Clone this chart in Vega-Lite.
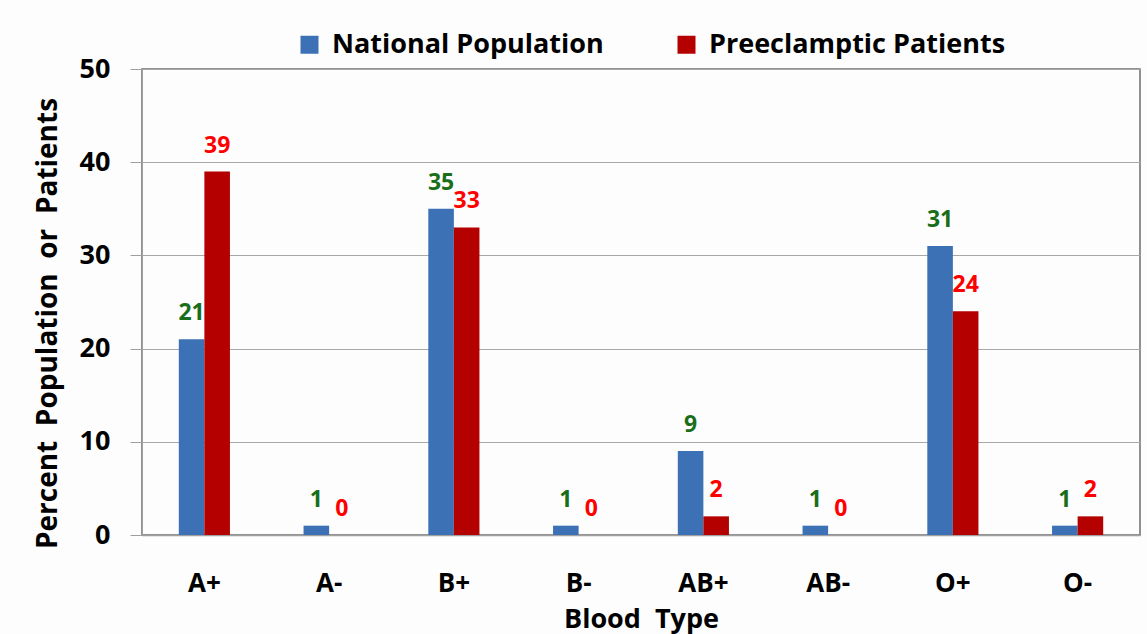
{
  "$schema": "https://vega.github.io/schema/vega-lite/v6.json",
  "autosize": "none",
  "width": 998,
  "height": 466,
  "padding": {"left": 142, "top": 69, "right": 7, "bottom": 99},
  "background": "#fdfdfd",
  "config": {
    "font": "Open Sans",
    "view": {"stroke": "#6e6e6e", "strokeWidth": 1.5}
  },
  "data": {
    "values": [
      {"type": "A+", "series": "National Population", "value": 21},
      {"type": "A+", "series": "Preeclamptic Patients", "value": 39},
      {"type": "A-", "series": "National Population", "value": 1},
      {"type": "A-", "series": "Preeclamptic Patients", "value": 0},
      {"type": "B+", "series": "National Population", "value": 35},
      {"type": "B+", "series": "Preeclamptic Patients", "value": 33},
      {"type": "B-", "series": "National Population", "value": 1},
      {"type": "B-", "series": "Preeclamptic Patients", "value": 0},
      {"type": "AB+", "series": "National Population", "value": 9},
      {"type": "AB+", "series": "Preeclamptic Patients", "value": 2},
      {"type": "AB-", "series": "National Population", "value": 1},
      {"type": "AB-", "series": "Preeclamptic Patients", "value": 0},
      {"type": "O+", "series": "National Population", "value": 31},
      {"type": "O+", "series": "Preeclamptic Patients", "value": 24},
      {"type": "O-", "series": "National Population", "value": 1},
      {"type": "O-", "series": "Preeclamptic Patients", "value": 2}
    ]
  },
  "encoding": {
    "x": {
      "field": "type", "type": "nominal", "sort": null,
      "scale": {"paddingInner": 0.59, "paddingOuter": 0.295},
      "axis": {
        "title": "Blood\u00a0 Type", "labelAngle": 0, "ticks": false,
        "domainColor": "#a0a0a0", "domainWidth": 1.5,
        "labelFont": "Open Sans", "labelFontSize": 26, "labelFontWeight": "bold", "labelColor": "#000000",
        "labelPadding": 35,
        "titleFont": "Open Sans", "titleFontSize": 27, "titleFontWeight": "bold", "titleColor": "#000000",
        "titlePadding": 10
      }
    },
    "xOffset": {"field": "series", "type": "nominal", "sort": ["National Population", "Preeclamptic Patients"]},
    "y": {
      "field": "value", "type": "quantitative",
      "scale": {"domain": [0, 50]},
      "axis": {
        "title": "Percent\u00a0 Population\u00a0 or\u00a0 Patients", "values": [0, 10, 20, 30, 40, 50],
        "grid": true, "gridColor": "#a8a8a8", "gridWidth": 1,
        "domainColor": "#a0a0a0", "domainWidth": 1,
        "tickColor": "#a0a0a0", "tickSize": 12, "tickWidth": 1,
        "labelFont": "Open Sans", "labelFontSize": 27, "labelFontWeight": "bold", "labelColor": "#000000",
        "labelPadding": 20,
        "titleFont": "Open Sans", "titleFontSize": 28, "titleFontWeight": "bold", "titleColor": "#000000",
        "titlePadding": 17, "titleY": 254
      }
    }
  },
  "layer": [
    {
      "mark": {"type": "bar", "stroke": null},
      "encoding": {
        "color": {
          "field": "series", "type": "nominal",
          "scale": {"domain": ["National Population", "Preeclamptic Patients"], "range": ["#3c71b5", "#b50000"]},
          "legend": {
            "title": null, "orient": "none", "direction": "horizontal",
            "legendX": 154, "legendY": -38,
            "symbolType": "square", "symbolSize": 324, "symbolStrokeWidth": 0,
            "labelFont": "Open Sans", "labelFontSize": 27, "labelFontWeight": "bold", "labelColor": "#000000",
            "labelOffset": 9, "columnPadding": 69, "labelLimit": 400
          }
        }
      }
    },
    {
      "mark": {"type": "text", "baseline": "alphabetic", "dy": -19, "font": "Open Sans", "fontSize": 23, "fontWeight": "bold"},
      "encoding": {
        "text": {"field": "value", "type": "quantitative"},
        "color": {
          "field": "series", "type": "nominal",
          "scale": {"domain": ["National Population", "Preeclamptic Patients"], "range": ["#1a6e1a", "#ff0000"]},
          "legend": null
        }
      }
    }
  ],
  "resolve": {"scale": {"color": "independent"}}
}
